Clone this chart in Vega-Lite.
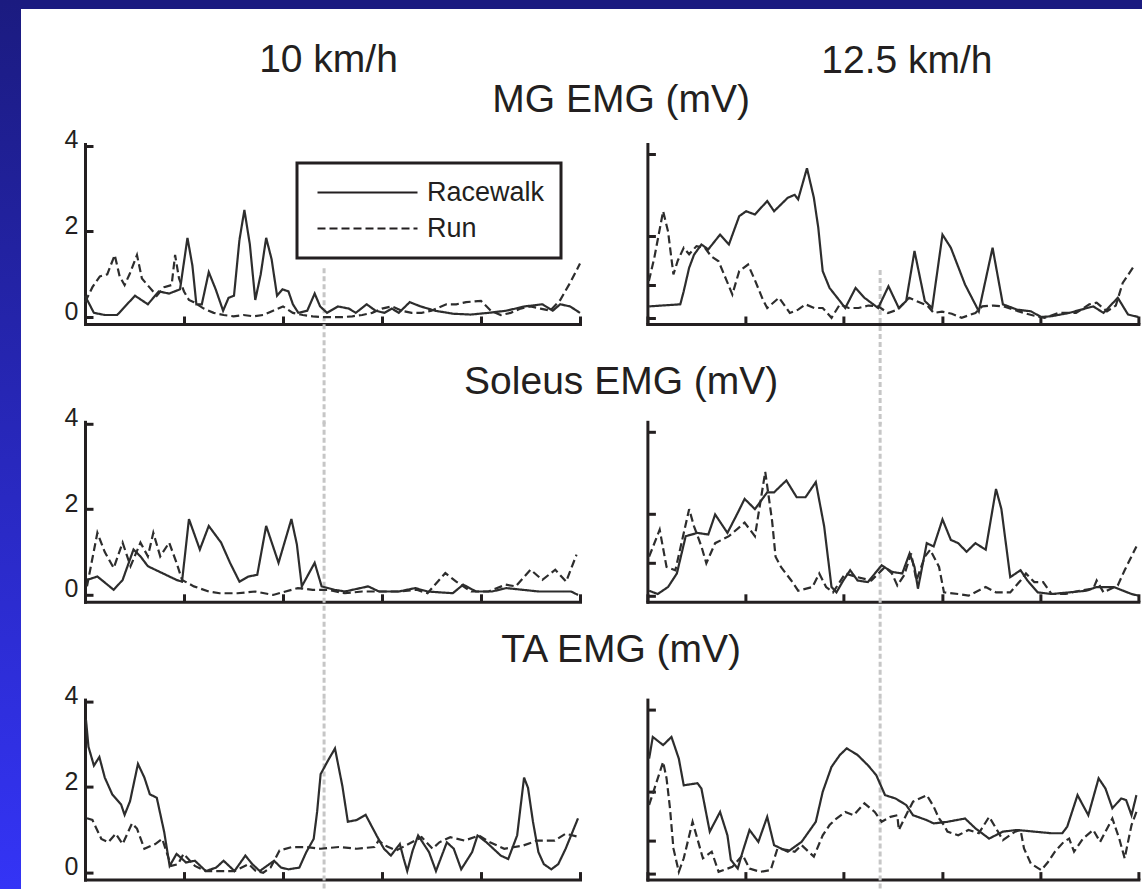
{
  "$schema": "https://vega.github.io/schema/vega-lite/v6.json",
  "padding": 0,
  "background": "white",
  "spacing": 0,
  "config": {
    "font": "Liberation Sans",
    "view": {"stroke": null},
    "axis": {
      "domainColor": "#231f20", "domainWidth": 3, "domainCap": "square",
      "tickColor": "#231f20", "tickWidth": 3, "tickSize": -8,
      "grid": false, "labelFont": "Liberation Sans", "labelFontSize": 25,
      "labelColor": "#231f20", "labelPadding": 15,
      "titleFont": "Liberation Sans", "titleFontSize": 39, "titleFontWeight": "normal", "titleColor": "#231f20"
    },
    "title": {"font": "Liberation Sans", "fontSize": 39, "fontWeight": "normal", "color": "#231f20", "baseline": "alphabetic", "anchor": "middle", "frame": "group"},
    "legend": {
      "orient": "none", "legendX": 297, "legendY": 163,
      "symbolType": "M-10,0H10", "symbolSize": 100, "symbolStrokeWidth": 2,
      "symbolStrokeColor": "#231f20", "symbolFillColor": "transparent",
      "symbolOffset": 41, "labelOffset": 46,
      "labelFont": "Liberation Sans", "labelFontSize": 27, "labelColor": "#231f20",
      "padding": 16, "rowPadding": 8, "strokeColor": "#231f20", "strokeWidth": 3
    }
  },
  "datasets": {
    "events": [{"speed": "10 km/h", "t": 48.3}, {"speed": "12.5 km/h", "t": 47.4}],
    "MG_10": [
      {"g":"Racewalk","t":0,"v":0.5},{"g":"Racewalk","t":1.8,"v":0.1},{"g":"Racewalk","t":4,"v":0.05},{"g":"Racewalk","t":6.5,"v":0.05},{"g":"Racewalk","t":8.5,"v":0.3},{"g":"Racewalk","t":10.1,"v":0.5},{"g":"Racewalk","t":12.7,"v":0.3},{"g":"Racewalk","t":14.9,"v":0.6},{"g":"Racewalk","t":17,"v":0.55},{"g":"Racewalk","t":19.2,"v":0.65},{"g":"Racewalk","t":20.7,"v":1.85},{"g":"Racewalk","t":21.7,"v":1.2},{"g":"Racewalk","t":22.5,"v":0.3},{"g":"Racewalk","t":23.6,"v":0.3},{"g":"Racewalk","t":25,"v":1.05},{"g":"Racewalk","t":26.4,"v":0.65},{"g":"Racewalk","t":27.9,"v":0.15},{"g":"Racewalk","t":29,"v":0.45},{"g":"Racewalk","t":30.1,"v":0.5},{"g":"Racewalk","t":31.2,"v":1.8},{"g":"Racewalk","t":32.2,"v":2.5},{"g":"Racewalk","t":33.3,"v":1.7},{"g":"Racewalk","t":34.4,"v":0.4},{"g":"Racewalk","t":35.5,"v":1.0},{"g":"Racewalk","t":36.6,"v":1.85},{"g":"Racewalk","t":37.7,"v":1.35},{"g":"Racewalk","t":38.8,"v":0.5},{"g":"Racewalk","t":39.9,"v":0.65},{"g":"Racewalk","t":41.1,"v":0.6},{"g":"Racewalk","t":42,"v":0.3},{"g":"Racewalk","t":43.1,"v":0.1},{"g":"Racewalk","t":44.9,"v":0.15},{"g":"Racewalk","t":46.4,"v":0.55},{"g":"Racewalk","t":47.5,"v":0.25},{"g":"Racewalk","t":48.9,"v":0.1},{"g":"Racewalk","t":51.1,"v":0.25},{"g":"Racewalk","t":53.3,"v":0.2},{"g":"Racewalk","t":54.7,"v":0.1},{"g":"Racewalk","t":56.9,"v":0.3},{"g":"Racewalk","t":58.7,"v":0.15},{"g":"Racewalk","t":60.5,"v":0.1},{"g":"Racewalk","t":62,"v":0.2},{"g":"Racewalk","t":63.4,"v":0.1},{"g":"Racewalk","t":65.6,"v":0.35},{"g":"Racewalk","t":67.8,"v":0.25},{"g":"Racewalk","t":70.7,"v":0.15},{"g":"Racewalk","t":74.3,"v":0.08},{"g":"Racewalk","t":77.9,"v":0.06},{"g":"Racewalk","t":81.5,"v":0.1},{"g":"Racewalk","t":85.1,"v":0.15},{"g":"Racewalk","t":88.8,"v":0.25},{"g":"Racewalk","t":92.4,"v":0.3},{"g":"Racewalk","t":94.5,"v":0.15},{"g":"Racewalk","t":96,"v":0.3},{"g":"Racewalk","t":98,"v":0.25},{"g":"Racewalk","t":100,"v":0.1},
      {"g":"Run","t":0,"v":0.35},{"g":"Run","t":1.5,"v":0.7},{"g":"Run","t":3,"v":0.95},{"g":"Run","t":4.5,"v":1.0},{"g":"Run","t":6,"v":1.45},{"g":"Run","t":7,"v":0.95},{"g":"Run","t":8,"v":0.75},{"g":"Run","t":9,"v":1.0},{"g":"Run","t":10.5,"v":1.45},{"g":"Run","t":11.5,"v":0.9},{"g":"Run","t":13,"v":0.7},{"g":"Run","t":14.5,"v":0.5},{"g":"Run","t":16,"v":0.7},{"g":"Run","t":17.5,"v":0.75},{"g":"Run","t":18.2,"v":1.45},{"g":"Run","t":19,"v":0.9},{"g":"Run","t":20,"v":0.6},{"g":"Run","t":21,"v":0.4},{"g":"Run","t":22,"v":0.35},{"g":"Run","t":24,"v":0.2},{"g":"Run","t":26,"v":0.1},{"g":"Run","t":28,"v":0.05},{"g":"Run","t":30,"v":0.02},{"g":"Run","t":32,"v":0.05},{"g":"Run","t":34,"v":0.02},{"g":"Run","t":36,"v":0.05},{"g":"Run","t":38,"v":0.15},{"g":"Run","t":40,"v":0.25},{"g":"Run","t":42,"v":0.1},{"g":"Run","t":44,"v":0.05},{"g":"Run","t":46,"v":0.02},{"g":"Run","t":48,"v":0.0},{"g":"Run","t":50,"v":0.0},{"g":"Run","t":52,"v":0.0},{"g":"Run","t":54,"v":0.02},{"g":"Run","t":56,"v":0.05},{"g":"Run","t":58,"v":0.1},{"g":"Run","t":60,"v":0.2},{"g":"Run","t":62,"v":0.25},{"g":"Run","t":64,"v":0.15},{"g":"Run","t":66,"v":0.1},{"g":"Run","t":68,"v":0.1},{"g":"Run","t":70,"v":0.15},{"g":"Run","t":73,"v":0.3},{"g":"Run","t":75,"v":0.3},{"g":"Run","t":77,"v":0.35},{"g":"Run","t":80,"v":0.38},{"g":"Run","t":82,"v":0.15},{"g":"Run","t":84,"v":0.05},{"g":"Run","t":86,"v":0.1},{"g":"Run","t":88,"v":0.2},{"g":"Run","t":90,"v":0.25},{"g":"Run","t":92,"v":0.2},{"g":"Run","t":94,"v":0.15},{"g":"Run","t":96,"v":0.4},{"g":"Run","t":98,"v":0.8},{"g":"Run","t":100,"v":1.25}
    ],
    "MG_12": [
      {"g":"Racewalk","t":0.35,"v":0.28},{"g":"Racewalk","t":6.7,"v":0.33},{"g":"Racewalk","t":7.4,"v":0.65},{"g":"Racewalk","t":8.5,"v":1.22},{"g":"Racewalk","t":9.5,"v":1.54},{"g":"Racewalk","t":11,"v":1.79},{"g":"Racewalk","t":12.4,"v":1.67},{"g":"Racewalk","t":14.8,"v":2.03},{"g":"Racewalk","t":16.6,"v":1.79},{"g":"Racewalk","t":18.7,"v":2.48},{"g":"Racewalk","t":20.1,"v":2.6},{"g":"Racewalk","t":21.9,"v":2.52},{"g":"Racewalk","t":24.4,"v":2.85},{"g":"Racewalk","t":25.8,"v":2.6},{"g":"Racewalk","t":28.6,"v":2.93},{"g":"Racewalk","t":30,"v":3.0},{"g":"Racewalk","t":30.7,"v":2.89},{"g":"Racewalk","t":32.5,"v":3.65},{"g":"Racewalk","t":33.9,"v":2.93},{"g":"Racewalk","t":34.8,"v":2.2},{"g":"Racewalk","t":35.7,"v":1.14},{"g":"Racewalk","t":37.1,"v":0.73},{"g":"Racewalk","t":39.2,"v":0.41},{"g":"Racewalk","t":40.3,"v":0.24},{"g":"Racewalk","t":42.4,"v":0.73},{"g":"Racewalk","t":44.2,"v":0.49},{"g":"Racewalk","t":47,"v":0.24},{"g":"Racewalk","t":49.1,"v":0.77},{"g":"Racewalk","t":51.2,"v":0.24},{"g":"Racewalk","t":52.7,"v":0.41},{"g":"Racewalk","t":54.4,"v":1.63},{"g":"Racewalk","t":56.5,"v":0.41},{"g":"Racewalk","t":58,"v":0.24},{"g":"Racewalk","t":60.1,"v":2.03},{"g":"Racewalk","t":61.8,"v":1.71},{"g":"Racewalk","t":64.7,"v":0.81},{"g":"Racewalk","t":67.5,"v":0.16},{"g":"Racewalk","t":70.3,"v":1.71},{"g":"Racewalk","t":72.4,"v":0.33},{"g":"Racewalk","t":75.3,"v":0.2},{"g":"Racewalk","t":78.1,"v":0.16},{"g":"Racewalk","t":80.2,"v":0.02},{"g":"Racewalk","t":82.3,"v":0.04},{"g":"Racewalk","t":85.9,"v":0.12},{"g":"Racewalk","t":90.8,"v":0.28},{"g":"Racewalk","t":92.9,"v":0.12},{"g":"Racewalk","t":95.8,"v":0.49},{"g":"Racewalk","t":97.9,"v":0.08},{"g":"Racewalk","t":100,"v":0.02},
      {"g":"Run","t":0.3,"v":0.9},{"g":"Run","t":1.4,"v":1.46},{"g":"Run","t":3.2,"v":2.6},{"g":"Run","t":4.2,"v":2.11},{"g":"Run","t":5.3,"v":1.06},{"g":"Run","t":6.2,"v":1.4},{"g":"Run","t":7.4,"v":1.71},{"g":"Run","t":8.5,"v":1.55},{"g":"Run","t":10,"v":1.75},{"g":"Run","t":11.7,"v":1.71},{"g":"Run","t":13,"v":1.5},{"g":"Run","t":14.5,"v":1.38},{"g":"Run","t":16.2,"v":0.89},{"g":"Run","t":17.3,"v":0.57},{"g":"Run","t":18.7,"v":1.14},{"g":"Run","t":20.5,"v":1.3},{"g":"Run","t":22,"v":0.89},{"g":"Run","t":23.5,"v":0.45},{"g":"Run","t":24.4,"v":0.24},{"g":"Run","t":26.8,"v":0.49},{"g":"Run","t":29,"v":0.12},{"g":"Run","t":30.7,"v":0.2},{"g":"Run","t":32.2,"v":0.33},{"g":"Run","t":34,"v":0.24},{"g":"Run","t":35.7,"v":0.24},{"g":"Run","t":37.5,"v":0.0},{"g":"Run","t":39.2,"v":0.33},{"g":"Run","t":41,"v":0.24},{"g":"Run","t":43,"v":0.24},{"g":"Run","t":45,"v":0.3},{"g":"Run","t":47,"v":0.28},{"g":"Run","t":49,"v":0.12},{"g":"Run","t":51,"v":0.2},{"g":"Run","t":53.3,"v":0.49},{"g":"Run","t":55,"v":0.4},{"g":"Run","t":57,"v":0.3},{"g":"Run","t":58.3,"v":0.12},{"g":"Run","t":60,"v":0.15},{"g":"Run","t":62,"v":0.1},{"g":"Run","t":64,"v":0.0},{"g":"Run","t":66.8,"v":0.12},{"g":"Run","t":68.2,"v":0.28},{"g":"Run","t":70.5,"v":0.3},{"g":"Run","t":72.5,"v":0.28},{"g":"Run","t":74.5,"v":0.2},{"g":"Run","t":76.7,"v":0.12},{"g":"Run","t":78.8,"v":0.05},{"g":"Run","t":80.9,"v":0.0},{"g":"Run","t":83.7,"v":0.12},{"g":"Run","t":87.3,"v":0.12},{"g":"Run","t":90,"v":0.33},{"g":"Run","t":91.5,"v":0.37},{"g":"Run","t":93.6,"v":0.16},{"g":"Run","t":95.4,"v":0.3},{"g":"Run","t":96.8,"v":0.85},{"g":"Run","t":99.3,"v":1.3}
    ],
    "SOL_10": [
      {"g":"Racewalk","t":0.4,"v":0.35},{"g":"Racewalk","t":2.5,"v":0.43},{"g":"Racewalk","t":5.8,"v":0.12},{"g":"Racewalk","t":7.6,"v":0.35},{"g":"Racewalk","t":9.8,"v":1.06},{"g":"Racewalk","t":11.2,"v":0.9},{"g":"Racewalk","t":12.7,"v":0.67},{"g":"Racewalk","t":15.6,"v":0.51},{"g":"Racewalk","t":18.5,"v":0.35},{"g":"Racewalk","t":19.6,"v":0.31},{"g":"Racewalk","t":21,"v":1.77},{"g":"Racewalk","t":23.2,"v":1.06},{"g":"Racewalk","t":25,"v":1.61},{"g":"Racewalk","t":27.5,"v":1.22},{"g":"Racewalk","t":29.3,"v":0.75},{"g":"Racewalk","t":31.2,"v":0.31},{"g":"Racewalk","t":33,"v":0.43},{"g":"Racewalk","t":34.8,"v":0.47},{"g":"Racewalk","t":36.6,"v":1.61},{"g":"Racewalk","t":39.1,"v":0.75},{"g":"Racewalk","t":41.7,"v":1.77},{"g":"Racewalk","t":42.8,"v":1.18},{"g":"Racewalk","t":43.8,"v":0.2},{"g":"Racewalk","t":46.4,"v":0.75},{"g":"Racewalk","t":47.8,"v":0.2},{"g":"Racewalk","t":50.4,"v":0.12},{"g":"Racewalk","t":52.5,"v":0.08},{"g":"Racewalk","t":57.2,"v":0.2},{"g":"Racewalk","t":59.4,"v":0.08},{"g":"Racewalk","t":63.4,"v":0.08},{"g":"Racewalk","t":66.7,"v":0.16},{"g":"Racewalk","t":69.2,"v":0.08},{"g":"Racewalk","t":74.3,"v":0.04},{"g":"Racewalk","t":76.4,"v":0.24},{"g":"Racewalk","t":79,"v":0.08},{"g":"Racewalk","t":82.2,"v":0.08},{"g":"Racewalk","t":85.1,"v":0.16},{"g":"Racewalk","t":91.7,"v":0.08},{"g":"Racewalk","t":98.2,"v":0.08},{"g":"Racewalk","t":99.6,"v":0.0},
      {"g":"Run","t":0.4,"v":0.2},{"g":"Run","t":2.5,"v":1.45},{"g":"Run","t":4,"v":1.0},{"g":"Run","t":5.8,"v":0.63},{"g":"Run","t":7.6,"v":1.22},{"g":"Run","t":9.2,"v":0.67},{"g":"Run","t":11.2,"v":1.22},{"g":"Run","t":12.7,"v":0.9},{"g":"Run","t":13.8,"v":1.45},{"g":"Run","t":15.2,"v":0.9},{"g":"Run","t":17,"v":1.22},{"g":"Run","t":18.5,"v":0.75},{"g":"Run","t":19.6,"v":0.35},{"g":"Run","t":22,"v":0.2},{"g":"Run","t":25,"v":0.08},{"g":"Run","t":27.2,"v":0.04},{"g":"Run","t":30.8,"v":0.04},{"g":"Run","t":34.4,"v":0.08},{"g":"Run","t":38,"v":0.0},{"g":"Run","t":43,"v":0.16},{"g":"Run","t":46,"v":0.12},{"g":"Run","t":49,"v":0.12},{"g":"Run","t":52.5,"v":0.04},{"g":"Run","t":56,"v":0.08},{"g":"Run","t":59.6,"v":0.08},{"g":"Run","t":63.4,"v":0.08},{"g":"Run","t":67,"v":0.12},{"g":"Run","t":69.2,"v":0.04},{"g":"Run","t":72.8,"v":0.51},{"g":"Run","t":75,"v":0.31},{"g":"Run","t":78,"v":0.08},{"g":"Run","t":81.5,"v":0.08},{"g":"Run","t":85,"v":0.24},{"g":"Run","t":87,"v":0.2},{"g":"Run","t":90,"v":0.59},{"g":"Run","t":92.4,"v":0.35},{"g":"Run","t":95,"v":0.59},{"g":"Run","t":97.2,"v":0.31},{"g":"Run","t":99.3,"v":0.94}
    ],
    "SOL_12": [
      {"g":"Racewalk","t":0.35,"v":0.12},{"g":"Racewalk","t":2.1,"v":0.04},{"g":"Racewalk","t":4.2,"v":0.21},{"g":"Racewalk","t":6,"v":0.54},{"g":"Racewalk","t":7.8,"v":1.45},{"g":"Racewalk","t":10.2,"v":1.53},{"g":"Racewalk","t":12.4,"v":1.49},{"g":"Racewalk","t":13.8,"v":1.98},{"g":"Racewalk","t":16.3,"v":1.53},{"g":"Racewalk","t":18.4,"v":2.02},{"g":"Racewalk","t":19.8,"v":2.36},{"g":"Racewalk","t":21.9,"v":2.11},{"g":"Racewalk","t":24.4,"v":2.52},{"g":"Racewalk","t":25.8,"v":2.52},{"g":"Racewalk","t":28.3,"v":2.81},{"g":"Racewalk","t":30.4,"v":2.4},{"g":"Racewalk","t":32.2,"v":2.4},{"g":"Racewalk","t":34.3,"v":2.77},{"g":"Racewalk","t":36,"v":1.69},{"g":"Racewalk","t":37.5,"v":0.21},{"g":"Racewalk","t":38.5,"v":0.08},{"g":"Racewalk","t":39.9,"v":0.37},{"g":"Racewalk","t":41.3,"v":0.62},{"g":"Racewalk","t":42.8,"v":0.37},{"g":"Racewalk","t":44.9,"v":0.33},{"g":"Racewalk","t":47.7,"v":0.74},{"g":"Racewalk","t":49.8,"v":0.58},{"g":"Racewalk","t":51.9,"v":0.54},{"g":"Racewalk","t":53.4,"v":1.03},{"g":"Racewalk","t":54.4,"v":0.7},{"g":"Racewalk","t":55.1,"v":0.17},{"g":"Racewalk","t":56.9,"v":1.28},{"g":"Racewalk","t":58.3,"v":1.2},{"g":"Racewalk","t":60.1,"v":1.86},{"g":"Racewalk","t":61.8,"v":1.36},{"g":"Racewalk","t":63.3,"v":1.28},{"g":"Racewalk","t":65,"v":1.07},{"g":"Racewalk","t":66.8,"v":1.28},{"g":"Racewalk","t":68.9,"v":1.12},{"g":"Racewalk","t":71,"v":2.6},{"g":"Racewalk","t":72.1,"v":2.11},{"g":"Racewalk","t":73.9,"v":0.45},{"g":"Racewalk","t":76,"v":0.62},{"g":"Racewalk","t":77.4,"v":0.37},{"g":"Racewalk","t":79.5,"v":0.08},{"g":"Racewalk","t":82.3,"v":0.04},{"g":"Racewalk","t":85.9,"v":0.08},{"g":"Racewalk","t":89.4,"v":0.12},{"g":"Racewalk","t":91.5,"v":0.21},{"g":"Racewalk","t":95,"v":0.21},{"g":"Racewalk","t":98.6,"v":0.04},{"g":"Racewalk","t":100,"v":0.0},
      {"g":"Run","t":0.35,"v":0.95},{"g":"Run","t":2.5,"v":1.61},{"g":"Run","t":3.9,"v":0.7},{"g":"Run","t":5.7,"v":0.62},{"g":"Run","t":8.5,"v":2.11},{"g":"Run","t":9.5,"v":1.69},{"g":"Run","t":11,"v":1.2},{"g":"Run","t":12,"v":0.79},{"g":"Run","t":13.8,"v":1.28},{"g":"Run","t":16.6,"v":1.45},{"g":"Run","t":19.8,"v":1.78},{"g":"Run","t":21.9,"v":1.45},{"g":"Run","t":24,"v":3.02},{"g":"Run","t":25.4,"v":1.82},{"g":"Run","t":26.1,"v":0.95},{"g":"Run","t":27.2,"v":0.7},{"g":"Run","t":29.3,"v":0.37},{"g":"Run","t":30.7,"v":0.12},{"g":"Run","t":33.6,"v":0.21},{"g":"Run","t":35,"v":0.54},{"g":"Run","t":36.4,"v":0.21},{"g":"Run","t":37.8,"v":0.08},{"g":"Run","t":40.3,"v":0.54},{"g":"Run","t":42.8,"v":0.45},{"g":"Run","t":45.6,"v":0.37},{"g":"Run","t":48.4,"v":0.7},{"g":"Run","t":49.8,"v":0.54},{"g":"Run","t":50.9,"v":0.25},{"g":"Run","t":52.3,"v":0.5},{"g":"Run","t":53.7,"v":1.03},{"g":"Run","t":54.8,"v":0.37},{"g":"Run","t":56.5,"v":0.95},{"g":"Run","t":57.6,"v":1.12},{"g":"Run","t":59.4,"v":0.7},{"g":"Run","t":60.4,"v":0.08},{"g":"Run","t":63.3,"v":0.04},{"g":"Run","t":65.4,"v":0.0},{"g":"Run","t":68.9,"v":0.21},{"g":"Run","t":71,"v":0.08},{"g":"Run","t":73.9,"v":0.08},{"g":"Run","t":76,"v":0.37},{"g":"Run","t":77.1,"v":0.54},{"g":"Run","t":78.8,"v":0.33},{"g":"Run","t":80.6,"v":0.33},{"g":"Run","t":82.3,"v":0.04},{"g":"Run","t":85.2,"v":0.04},{"g":"Run","t":88,"v":0.12},{"g":"Run","t":90.8,"v":0.17},{"g":"Run","t":91.5,"v":0.37},{"g":"Run","t":92.9,"v":0.08},{"g":"Run","t":95.8,"v":0.25},{"g":"Run","t":97.2,"v":0.62},{"g":"Run","t":99.6,"v":1.2}
    ],
    "TA_10": [
      {"g":"Racewalk","t":0.2,"v":3.57},{"g":"Racewalk","t":0.7,"v":2.94},{"g":"Racewalk","t":1.8,"v":2.5},{"g":"Racewalk","t":2.9,"v":2.7},{"g":"Racewalk","t":4,"v":2.22},{"g":"Racewalk","t":5.5,"v":1.83},{"g":"Racewalk","t":7.3,"v":1.59},{"g":"Racewalk","t":8,"v":1.35},{"g":"Racewalk","t":9.1,"v":1.67},{"g":"Racewalk","t":10.7,"v":2.54},{"g":"Racewalk","t":12,"v":2.22},{"g":"Racewalk","t":13.1,"v":1.83},{"g":"Racewalk","t":14.5,"v":1.75},{"g":"Racewalk","t":16,"v":0.95},{"g":"Racewalk","t":17.1,"v":0.16},{"g":"Racewalk","t":18.5,"v":0.44},{"g":"Racewalk","t":20.4,"v":0.24},{"g":"Racewalk","t":22.2,"v":0.28},{"g":"Racewalk","t":24.4,"v":0.04},{"g":"Racewalk","t":26.5,"v":0.12},{"g":"Racewalk","t":28,"v":0.28},{"g":"Racewalk","t":30.2,"v":0.04},{"g":"Racewalk","t":32.4,"v":0.4},{"g":"Racewalk","t":33.8,"v":0.2},{"g":"Racewalk","t":35.3,"v":0.04},{"g":"Racewalk","t":38.2,"v":0.28},{"g":"Racewalk","t":39.6,"v":0.12},{"g":"Racewalk","t":41.1,"v":0.08},{"g":"Racewalk","t":43.3,"v":0.12},{"g":"Racewalk","t":44.7,"v":0.48},{"g":"Racewalk","t":46.2,"v":0.79},{"g":"Racewalk","t":46.9,"v":1.43},{"g":"Racewalk","t":47.6,"v":2.3},{"g":"Racewalk","t":49.1,"v":2.62},{"g":"Racewalk","t":50.5,"v":2.9},{"g":"Racewalk","t":52,"v":2.02},{"g":"Racewalk","t":53.1,"v":1.19},{"g":"Racewalk","t":54.9,"v":1.23},{"g":"Racewalk","t":56.7,"v":1.35},{"g":"Racewalk","t":58.9,"v":0.87},{"g":"Racewalk","t":60.4,"v":0.56},{"g":"Racewalk","t":61.8,"v":0.4},{"g":"Racewalk","t":63.6,"v":0.67},{"g":"Racewalk","t":64.4,"v":0.32},{"g":"Racewalk","t":65.1,"v":0.04},{"g":"Racewalk","t":66.2,"v":0.52},{"g":"Racewalk","t":67.3,"v":0.87},{"g":"Racewalk","t":69.5,"v":0.48},{"g":"Racewalk","t":70.9,"v":0.04},{"g":"Racewalk","t":73.1,"v":0.71},{"g":"Racewalk","t":74.5,"v":0.56},{"g":"Racewalk","t":76,"v":0.08},{"g":"Racewalk","t":78.2,"v":0.48},{"g":"Racewalk","t":79.3,"v":0.87},{"g":"Racewalk","t":81.1,"v":0.71},{"g":"Racewalk","t":84,"v":0.4},{"g":"Racewalk","t":85.5,"v":0.32},{"g":"Racewalk","t":87.3,"v":0.87},{"g":"Racewalk","t":88.7,"v":2.22},{"g":"Racewalk","t":89.5,"v":1.98},{"g":"Racewalk","t":90.5,"v":1.19},{"g":"Racewalk","t":91.6,"v":0.48},{"g":"Racewalk","t":92.7,"v":0.2},{"g":"Racewalk","t":94.2,"v":0.08},{"g":"Racewalk","t":95.6,"v":0.2},{"g":"Racewalk","t":97.1,"v":0.56},{"g":"Racewalk","t":99.6,"v":1.27},
      {"g":"Run","t":0.4,"v":1.27},{"g":"Run","t":1.5,"v":1.23},{"g":"Run","t":3.3,"v":0.79},{"g":"Run","t":4.7,"v":0.71},{"g":"Run","t":6.2,"v":0.91},{"g":"Run","t":7.6,"v":0.67},{"g":"Run","t":9.5,"v":1.15},{"g":"Run","t":10.5,"v":1.03},{"g":"Run","t":12,"v":0.56},{"g":"Run","t":14.2,"v":0.67},{"g":"Run","t":15.6,"v":0.79},{"g":"Run","t":17.4,"v":0.16},{"g":"Run","t":18.8,"v":0.2},{"g":"Run","t":19.9,"v":0.44},{"g":"Run","t":22.2,"v":0.16},{"g":"Run","t":24.4,"v":0.04},{"g":"Run","t":26.5,"v":0.04},{"g":"Run","t":30.2,"v":0.04},{"g":"Run","t":33.1,"v":0.2},{"g":"Run","t":34.5,"v":0.04},{"g":"Run","t":36,"v":0.0},{"g":"Run","t":37.5,"v":0.12},{"g":"Run","t":39.3,"v":0.52},{"g":"Run","t":41.8,"v":0.6},{"g":"Run","t":44.7,"v":0.6},{"g":"Run","t":47.6,"v":0.56},{"g":"Run","t":51.3,"v":0.6},{"g":"Run","t":54.9,"v":0.56},{"g":"Run","t":58.5,"v":0.6},{"g":"Run","t":59.3,"v":0.75},{"g":"Run","t":60.7,"v":0.63},{"g":"Run","t":62.9,"v":0.52},{"g":"Run","t":64.7,"v":0.63},{"g":"Run","t":68,"v":0.83},{"g":"Run","t":70.2,"v":0.56},{"g":"Run","t":71.6,"v":0.71},{"g":"Run","t":73.8,"v":0.83},{"g":"Run","t":76.7,"v":0.75},{"g":"Run","t":79.6,"v":0.87},{"g":"Run","t":81.8,"v":0.71},{"g":"Run","t":84.7,"v":0.56},{"g":"Run","t":88.4,"v":0.63},{"g":"Run","t":91.3,"v":0.75},{"g":"Run","t":94.9,"v":0.75},{"g":"Run","t":97.1,"v":0.91},{"g":"Run","t":100,"v":0.83}
    ],
    "TA_12": [
      {"g":"Racewalk","t":0.35,"v":2.8},{"g":"Racewalk","t":1.1,"v":3.33},{"g":"Racewalk","t":3.2,"v":3.13},{"g":"Racewalk","t":4.9,"v":3.33},{"g":"Racewalk","t":6.4,"v":2.8},{"g":"Racewalk","t":7.4,"v":2.15},{"g":"Racewalk","t":10.2,"v":2.2},{"g":"Racewalk","t":11,"v":2.07},{"g":"Racewalk","t":12.7,"v":1.02},{"g":"Racewalk","t":14.8,"v":1.5},{"g":"Racewalk","t":16.3,"v":0.93},{"g":"Racewalk","t":17,"v":0.33},{"g":"Racewalk","t":18.4,"v":0.12},{"g":"Racewalk","t":19.4,"v":0.53},{"g":"Racewalk","t":20.8,"v":1.06},{"g":"Racewalk","t":22.6,"v":0.77},{"g":"Racewalk","t":24.4,"v":1.38},{"g":"Racewalk","t":25.8,"v":0.69},{"g":"Racewalk","t":28.6,"v":0.53},{"g":"Racewalk","t":31.4,"v":0.77},{"g":"Racewalk","t":34.3,"v":1.26},{"g":"Racewalk","t":35.7,"v":1.99},{"g":"Racewalk","t":37.5,"v":2.6},{"g":"Racewalk","t":39.2,"v":2.89},{"g":"Racewalk","t":40.6,"v":3.05},{"g":"Racewalk","t":42.8,"v":2.89},{"g":"Racewalk","t":44.9,"v":2.64},{"g":"Racewalk","t":46.6,"v":2.4},{"g":"Racewalk","t":48.4,"v":1.91},{"g":"Racewalk","t":50.5,"v":1.83},{"g":"Racewalk","t":52.7,"v":1.67},{"g":"Racewalk","t":54.1,"v":1.42},{"g":"Racewalk","t":56.9,"v":1.3},{"g":"Racewalk","t":58.3,"v":1.22},{"g":"Racewalk","t":61.1,"v":1.26},{"g":"Racewalk","t":64.7,"v":1.34},{"g":"Racewalk","t":66.8,"v":1.1},{"g":"Racewalk","t":69.6,"v":0.85},{"g":"Racewalk","t":72.4,"v":1.02},{"g":"Racewalk","t":75.3,"v":1.06},{"g":"Racewalk","t":78.8,"v":1.02},{"g":"Racewalk","t":82.3,"v":0.98},{"g":"Racewalk","t":84.5,"v":0.98},{"g":"Racewalk","t":85.5,"v":1.14},{"g":"Racewalk","t":87.6,"v":1.91},{"g":"Racewalk","t":89.8,"v":1.42},{"g":"Racewalk","t":91.9,"v":2.32},{"g":"Racewalk","t":93.3,"v":2.07},{"g":"Racewalk","t":94.7,"v":1.59},{"g":"Racewalk","t":96.5,"v":1.83},{"g":"Racewalk","t":97.5,"v":1.79},{"g":"Racewalk","t":98.6,"v":1.42},{"g":"Racewalk","t":99.6,"v":1.91},
      {"g":"Run","t":0.35,"v":1.67},{"g":"Run","t":3.2,"v":2.72},{"g":"Run","t":3.9,"v":2.32},{"g":"Run","t":4.6,"v":1.59},{"g":"Run","t":5.3,"v":0.61},{"g":"Run","t":6.4,"v":0.04},{"g":"Run","t":7.4,"v":0.37},{"g":"Run","t":9.2,"v":1.26},{"g":"Run","t":11.3,"v":0.37},{"g":"Run","t":13.1,"v":0.53},{"g":"Run","t":14.5,"v":0.04},{"g":"Run","t":17.3,"v":0.16},{"g":"Run","t":19.4,"v":0.45},{"g":"Run","t":20.8,"v":0.12},{"g":"Run","t":23,"v":0.04},{"g":"Run","t":25.1,"v":0.08},{"g":"Run","t":26.5,"v":0.61},{"g":"Run","t":28.6,"v":0.57},{"g":"Run","t":30,"v":0.53},{"g":"Run","t":31.4,"v":0.69},{"g":"Run","t":33.9,"v":0.41},{"g":"Run","t":35.7,"v":0.93},{"g":"Run","t":37.1,"v":1.18},{"g":"Run","t":38.5,"v":1.34},{"g":"Run","t":40.3,"v":1.5},{"g":"Run","t":42,"v":1.42},{"g":"Run","t":44.2,"v":1.71},{"g":"Run","t":46.3,"v":1.5},{"g":"Run","t":47.7,"v":1.26},{"g":"Run","t":49.5,"v":1.38},{"g":"Run","t":50.9,"v":1.42},{"g":"Run","t":51.2,"v":1.06},{"g":"Run","t":53,"v":1.5},{"g":"Run","t":54.1,"v":1.75},{"g":"Run","t":56.9,"v":1.91},{"g":"Run","t":58.3,"v":1.63},{"g":"Run","t":59.4,"v":1.34},{"g":"Run","t":60.4,"v":1.18},{"g":"Run","t":61.1,"v":1.02},{"g":"Run","t":63.3,"v":0.93},{"g":"Run","t":65.4,"v":1.06},{"g":"Run","t":67.5,"v":0.98},{"g":"Run","t":69.6,"v":1.38},{"g":"Run","t":71.4,"v":1.02},{"g":"Run","t":72.4,"v":0.81},{"g":"Run","t":74.9,"v":1.02},{"g":"Run","t":76,"v":1.06},{"g":"Run","t":76.7,"v":0.61},{"g":"Run","t":78.1,"v":0.24},{"g":"Run","t":80.2,"v":0.08},{"g":"Run","t":81.6,"v":0.28},{"g":"Run","t":83,"v":0.53},{"g":"Run","t":84.8,"v":0.77},{"g":"Run","t":85.9,"v":0.85},{"g":"Run","t":86.9,"v":0.53},{"g":"Run","t":88.7,"v":0.85},{"g":"Run","t":90.8,"v":1.06},{"g":"Run","t":92.2,"v":0.77},{"g":"Run","t":94.7,"v":1.34},{"g":"Run","t":96.1,"v":0.85},{"g":"Run","t":97.2,"v":0.37},{"g":"Run","t":98.6,"v":1.18},{"g":"Run","t":99.6,"v":1.5}
    ]
  },
  "hconcat": [
    {
      "width": 21, "height": 889,
      "view": {"stroke": null, "fill": {"gradient": "linear", "x1": 0, "y1": 0, "x2": 0, "y2": 1, "stops": [{"offset": 0, "color": "#1b1b80"}, {"offset": 1, "color": "#3434f6"}]}},
      "data": {"values": []}, "mark": "rule", "encoding": {}
    },
    {
      "spacing": 0,
      "vconcat": [
        {"width": 1121, "height": 9, "view": {"stroke": null, "fill": "#1b1b80"}, "data": {"values": []}, "mark": "rule", "encoding": {}},
        {"width": 1, "height": 31, "data": {"values": []}, "mark": "rule", "encoding": {}},
        {
          "spacing": 0,
          "hconcat": [
            {"width": 42.9, "height": 1, "data": {"values": []}, "mark": "rule", "encoding": {}},
            {
              "columns": 2,
              "bounds": "flush",
              "spacing": {"row": 97.8, "column": 67.4},
              "concat": [
                {
                  "width": 495, "height": 180,
                  "title": {"text": "10 km/h", "offset": 48, "dx": -4},
                  "layer": [
                    {"data": {"name": "events"}, "transform": [{"filter": "datum.speed == '10 km/h'"}],
                     "mark": {"type": "rule", "color": "#c6c6c6", "strokeWidth": 3, "strokeDash": [5, 3]},
                     "encoding": {"x": {"field": "t", "type": "quantitative"}, "y": {"datum": 1.14, "type": "quantitative"}, "y2": {"datum": -2.5}}},
                    {"data": {"name": "MG_10"},
                     "mark": {"type": "line", "color": "#2d2d2d", "strokeWidth": 2.2},
                     "encoding": {
                       "x": {"field": "t", "type": "quantitative", "scale": {"domain": [0, 100], "nice": false, "zero": false}, "axis": {"values": [0, 20, 40, 60, 80, 100], "labels": false, "title": null}},
                       "y": {"field": "v", "type": "quantitative", "scale": {"domain": [-0.16, 4.04], "nice": false, "zero": false}, "axis": {"values": [0, 2, 4], "title": null, "labelOffset": -6}},
                       "strokeDash": {"field": "g", "type": "nominal", "scale": {"domain": ["Racewalk", "Run"], "range": [[1, 0], [8, 4]]}, "legend": {"title": null}}
                     }}
                  ]
                },
                {
                  "width": 491, "height": 180,
                  "title": {"text": "12.5 km/h", "offset": -1, "dx": 14},
                  "layer": [
                    {"data": {"name": "events"}, "transform": [{"filter": "datum.speed == '12.5 km/h'"}],
                     "mark": {"type": "rule", "color": "#c6c6c6", "strokeWidth": 3, "strokeDash": [5, 3]},
                     "encoding": {"x": {"field": "t", "type": "quantitative"}, "y": {"datum": 1.17, "type": "quantitative"}, "y2": {"datum": -2.6}}},
                    {"data": {"name": "MG_12"},
                     "mark": {"type": "line", "color": "#2d2d2d", "strokeWidth": 2.2},
                     "encoding": {
                       "x": {"field": "t", "type": "quantitative", "scale": {"domain": [0, 100], "nice": false, "zero": false}, "axis": {"values": [0, 20, 40, 60, 80, 100], "labels": false, "title": null}},
                       "y": {"field": "v", "type": "quantitative", "scale": {"domain": [-0.15, 4.24], "nice": false, "zero": false}, "axis": {"values": [0, 0.8, 2, 4], "labels": false, "title": "MG EMG (mV)", "titleX": -26.7, "titleY": -33, "titleAngle": 0, "titleAlign": "center", "titleBaseline": "alphabetic", "titlePadding": 0}},
                       "strokeDash": {"field": "g", "type": "nominal", "scale": {"domain": ["Racewalk", "Run"], "range": [[1, 0], [8, 4]]}, "legend": {"title": null}}
                     }}
                  ]
                },
                {
                  "width": 495, "height": 180,
                  "layer": [
                    {"data": {"name": "events"}, "transform": [{"filter": "datum.speed == '10 km/h'"}],
                     "mark": {"type": "rule", "color": "#c6c6c6", "strokeWidth": 3, "strokeDash": [5, 3]},
                     "encoding": {"x": {"field": "t", "type": "quantitative"}, "y": {"datum": 4.04, "type": "quantitative"}, "y2": {"datum": -2.5}}},
                    {"data": {"name": "SOL_10"},
                     "mark": {"type": "line", "color": "#2d2d2d", "strokeWidth": 2.2},
                     "encoding": {
                       "x": {"field": "t", "type": "quantitative", "scale": {"domain": [0, 100], "nice": false, "zero": false}, "axis": {"values": [0, 20, 40, 60, 80, 100], "labels": false, "title": null}},
                       "y": {"field": "v", "type": "quantitative", "scale": {"domain": [-0.16, 4.04], "nice": false, "zero": false}, "axis": {"values": [0, 2, 4], "title": null, "labelOffset": -6}},
                       "strokeDash": {"field": "g", "type": "nominal", "scale": {"domain": ["Racewalk", "Run"], "range": [[1, 0], [8, 4]]}, "legend": {"title": null}}
                     }}
                  ]
                },
                {
                  "width": 491, "height": 180,
                  "layer": [
                    {"data": {"name": "events"}, "transform": [{"filter": "datum.speed == '12.5 km/h'"}],
                     "mark": {"type": "rule", "color": "#c6c6c6", "strokeWidth": 3, "strokeDash": [5, 3]},
                     "encoding": {"x": {"field": "t", "type": "quantitative"}, "y": {"datum": 4.24, "type": "quantitative"}, "y2": {"datum": -2.6}}},
                    {"data": {"name": "SOL_12"},
                     "mark": {"type": "line", "color": "#2d2d2d", "strokeWidth": 2.2},
                     "encoding": {
                       "x": {"field": "t", "type": "quantitative", "scale": {"domain": [0, 100], "nice": false, "zero": false}, "axis": {"values": [0, 20, 40, 60, 80, 100], "labels": false, "title": null}},
                       "y": {"field": "v", "type": "quantitative", "scale": {"domain": [-0.15, 4.24], "nice": false, "zero": false}, "axis": {"values": [0, 0.8, 2, 4], "labels": false, "title": "Soleus EMG (mV)", "titleX": -26.7, "titleY": -28, "titleAngle": 0, "titleAlign": "center", "titleBaseline": "alphabetic", "titlePadding": 0}},
                       "strokeDash": {"field": "g", "type": "nominal", "scale": {"domain": ["Racewalk", "Run"], "range": [[1, 0], [8, 4]]}, "legend": {"title": null}}
                     }}
                  ]
                },
                {
                  "width": 495, "height": 180,
                  "layer": [
                    {"data": {"name": "events"}, "transform": [{"filter": "datum.speed == '10 km/h'"}],
                     "mark": {"type": "rule", "color": "#c6c6c6", "strokeWidth": 3, "strokeDash": [5, 3]},
                     "encoding": {"x": {"field": "t", "type": "quantitative"}, "y": {"datum": 4.04, "type": "quantitative"}, "y2": {"datum": -0.45}}},
                    {"data": {"name": "TA_10"},
                     "mark": {"type": "line", "color": "#2d2d2d", "strokeWidth": 2.2},
                     "encoding": {
                       "x": {"field": "t", "type": "quantitative", "scale": {"domain": [0, 100], "nice": false, "zero": false}, "axis": {"values": [0, 20, 40, 60, 80, 100], "labels": false, "title": null}},
                       "y": {"field": "v", "type": "quantitative", "scale": {"domain": [-0.16, 4.04], "nice": false, "zero": false}, "axis": {"values": [0, 2, 4], "title": null, "labelOffset": -6}},
                       "strokeDash": {"field": "g", "type": "nominal", "scale": {"domain": ["Racewalk", "Run"], "range": [[1, 0], [8, 4]]}, "legend": {"title": null}}
                     }}
                  ]
                },
                {
                  "width": 491, "height": 180,
                  "layer": [
                    {"data": {"name": "events"}, "transform": [{"filter": "datum.speed == '12.5 km/h'"}],
                     "mark": {"type": "rule", "color": "#c6c6c6", "strokeWidth": 3, "strokeDash": [5, 3]},
                     "encoding": {"x": {"field": "t", "type": "quantitative"}, "y": {"datum": 4.24, "type": "quantitative"}, "y2": {"datum": -0.45}}},
                    {"data": {"name": "TA_12"},
                     "mark": {"type": "line", "color": "#2d2d2d", "strokeWidth": 2.2},
                     "encoding": {
                       "x": {"field": "t", "type": "quantitative", "scale": {"domain": [0, 100], "nice": false, "zero": false}, "axis": {"values": [0, 20, 40, 60, 80, 100], "labels": false, "title": null}},
                       "y": {"field": "v", "type": "quantitative", "scale": {"domain": [-0.15, 4.24], "nice": false, "zero": false}, "axis": {"values": [0, 0.8, 2, 4], "labels": false, "title": "TA EMG (mV)", "titleX": -26.7, "titleY": -38, "titleAngle": 0, "titleAlign": "center", "titleBaseline": "alphabetic", "titlePadding": 0}},
                       "strokeDash": {"field": "g", "type": "nominal", "scale": {"domain": ["Racewalk", "Run"], "range": [[1, 0], [8, 4]]}, "legend": {"title": null}}
                     }}
                  ]
                }
              ]
            }
          ]
        }
      ]
    }
  ]
}
